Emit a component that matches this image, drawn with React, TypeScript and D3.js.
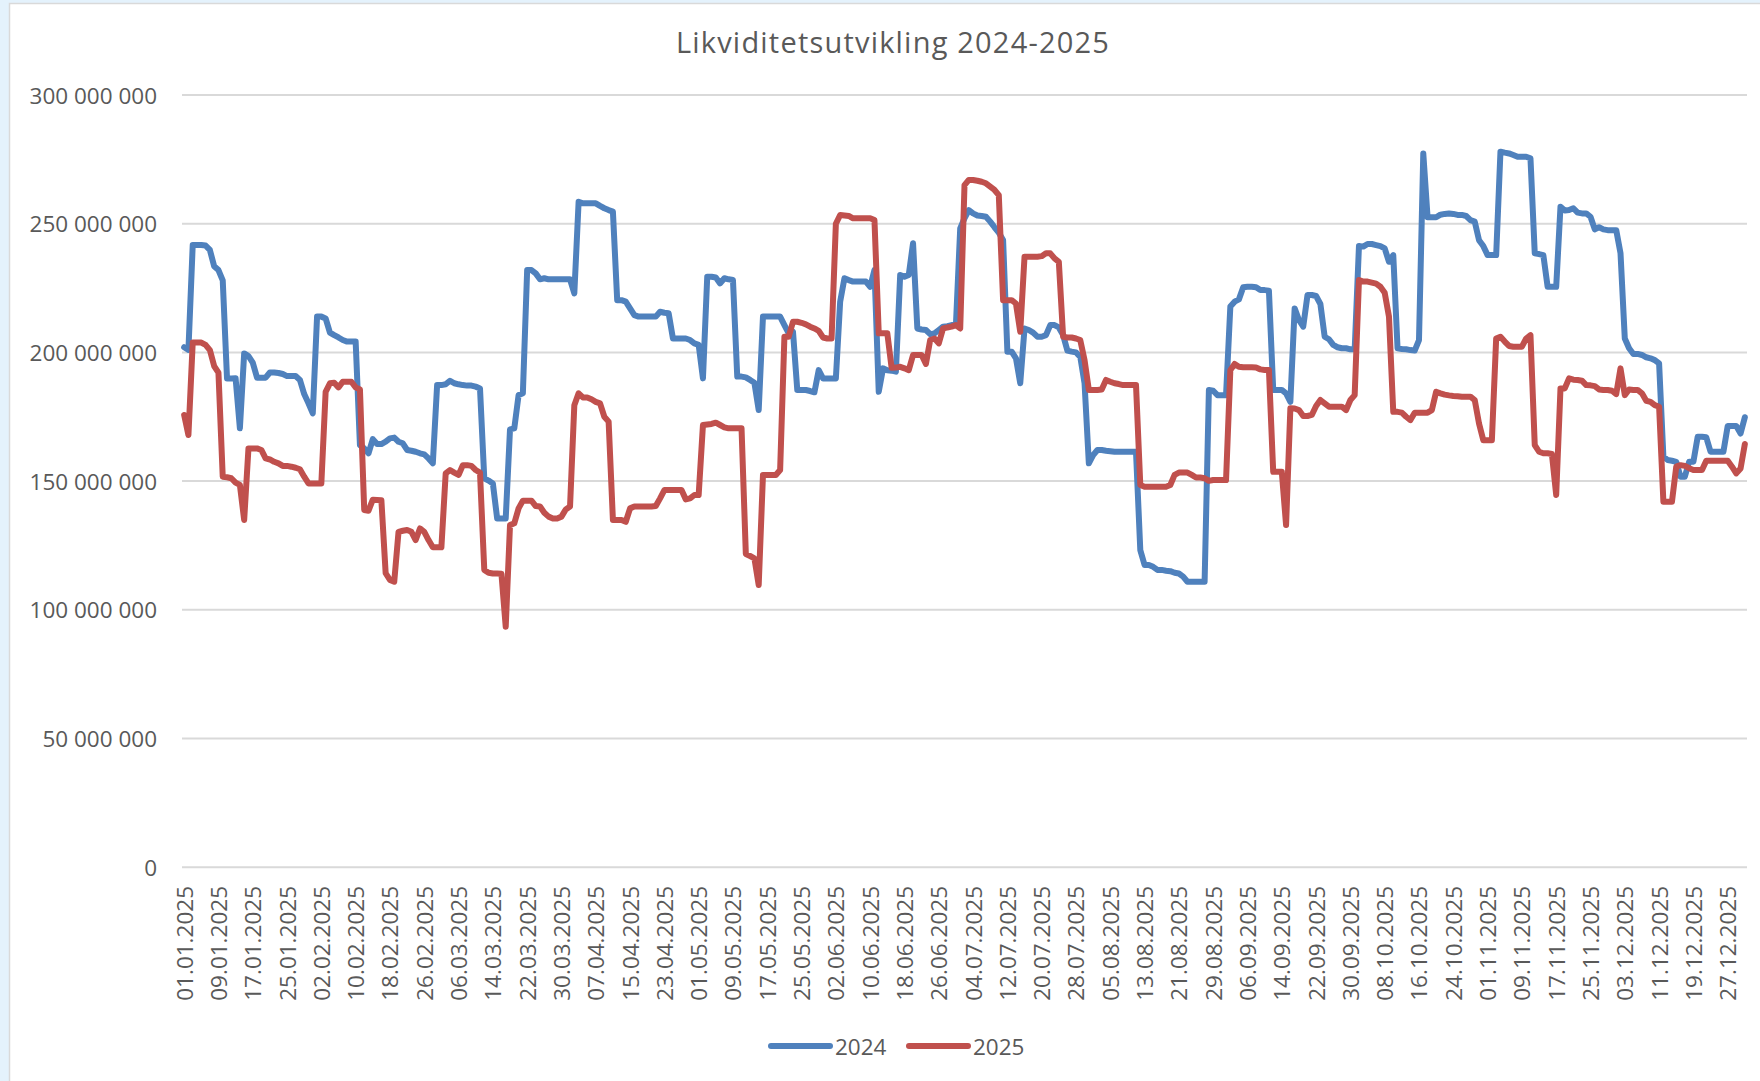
import React from 'react';
import * as d3 from 'd3';

// Likviditet per dag, millioner kroner (lest av fra grafen)
const series2024 = [
  202, 201, 241.7, 241.7, 241.7, 241.5, 239.8, 233.5, 232, 228,
  189.9, 189.9, 190, 170.5, 199.6, 198.6, 196, 190.2, 190.2, 190.2,
  192.2, 192.2, 192, 191.6, 190.8, 190.8, 190.8, 189.3, 183.8, 180.2,
  176.3, 213.9, 213.9, 213.2, 207.7, 206.7, 205.8, 204.8, 204.2, 204.2,
  204.2, 164, 162.7, 160.8, 166.3, 164.4, 164.4, 165.3, 166.6, 166.9,
  165.3, 164.7, 162.1, 161.8, 161.4, 160.8, 160.4, 158.8, 156.9, 187.3,
  187.3, 187.6, 189, 188, 187.6, 187.3, 187.1, 187.1, 186.7, 186,
  151.1, 150.2, 149.1, 135.5, 135.5, 135.5, 170.1, 170.5, 183.4, 184.1,
  232, 232, 230.7, 228.4, 228.8, 228.4, 228.4, 228.4, 228.4, 228.4,
  228.4, 222.9, 258.5, 257.9, 257.9, 257.9, 257.9, 256.9, 256, 255.3,
  254.7, 220.3, 220.3, 219.7, 217.1, 214.5, 213.9, 213.9, 213.9, 213.9,
  213.9, 215.8, 215.4, 215.2, 205.4, 205.4, 205.4, 205.4, 204.8, 203.5,
  202.9, 189.9, 229.4, 229.4, 229.1, 226.8, 228.8, 228.4, 228.1, 190.6,
  190.6, 190.3, 189.3, 188.2, 177.6, 213.9, 213.9, 213.9, 213.9, 213.9,
  210.6, 207.4, 208, 185.4, 185.4, 185.4, 185, 184.5, 193.1, 189.9,
  189.9, 189.9, 189.9, 219.7, 228.8, 228.1, 227.5, 227.5, 227.5, 227.5,
  225.5, 232, 184.7, 193.8, 193.1, 192.9, 192.5, 230.1, 229.4, 230.1,
  242.4, 209.3, 208.9, 208.7, 207.1, 207.4, 208.7, 210, 210.2, 210.6,
  210.6, 248.2, 252.1, 255.3, 254, 253.2, 253, 252.7, 250.8, 248.6,
  246.5, 243.7, 200.3, 200.3, 197.7, 188, 209.3, 208.7, 207.7, 206.1,
  206.1, 206.7, 210.6, 210.6, 209.7, 206.7, 200.7, 200.3, 200, 198.3,
  188, 156.9, 160.1, 162.1, 162.1, 161.8, 161.6, 161.4, 161.4, 161.4,
  161.4, 161.4, 161.4, 123.2, 117.4, 117.4, 116.7, 115.5, 115.5, 115.2,
  115, 114.4, 114.1, 112.9, 110.9, 110.9, 110.9, 110.9, 110.9, 185.4,
  185.1, 183.4, 183.4, 183.4, 217.8, 219.7, 220.6, 225.3, 225.5, 225.5,
  225.3, 224.2, 224.2, 224, 185.4, 185.4, 185.4, 184.1, 180.8, 217.1,
  212.6, 210, 222.3, 222.3, 221.9, 218.8, 206.1, 205.1, 202.9, 202,
  201.6, 201.6, 201.2, 201.2, 241.3, 241.1, 242.1, 242.1, 241.7, 241.3,
  240.4, 235.2, 237.8, 201.6, 201.3, 201.2, 200.9, 200.7, 204.8, 277.3,
  252.5, 252.5, 252.5, 253.5, 253.8, 254, 253.8, 253.4, 253.4, 253,
  251.4, 250.8, 243.6, 241.3, 237.8, 237.8, 237.8, 278, 277.6, 277.3,
  276.7, 276, 276, 276, 275.4, 238.5, 238.2, 237.8, 225.5, 225.5,
  225.5, 256.6, 255.1, 255.3, 256, 254.3, 254, 254, 252.7, 247.8,
  248.6, 247.8, 247.5, 247.5, 247.5, 238.5, 205.4, 201.6, 199.4, 199.4,
  199, 198.1, 197.7, 197, 195.7, 159.5, 158.2, 157.9, 157.5, 151.7,
  151.7, 157.5, 157.5, 167.2, 167.2, 167, 161.4, 161.4, 161.4, 161.4,
  171.4, 171.4, 171.4, 168.5, 174.8,
];

const series2025 = [
  175.7, 167.9, 203.8, 203.8, 203.8, 202.9, 200.9, 194.7, 192.1, 151.7,
  151.5, 151.1, 149.4, 148.5, 134.9, 162.7, 162.7, 162.7, 162.1, 158.8,
  158.4, 157.5, 156.9, 155.9, 155.9, 155.6, 155.2, 154.6, 151.7, 149.1,
  149.1, 149.1, 149.1, 184.7, 188, 188.2, 186.4, 188.6, 188.6, 188.6,
  186.4, 185.6, 138.8, 138.5, 142.8, 142.7, 142.6, 114.2, 111.6, 110.9,
  130.3, 130.7, 131, 130.3, 127.1, 131.6, 130.3, 127.1, 124.3, 124.3,
  124.3, 153, 154.3, 153.3, 152.4, 156.2, 156.2, 155.9, 154.3, 153.3,
  115.5, 114.4, 114.1, 114.1, 114, 93.4, 132.9, 133.6, 139.4, 142.4,
  142.4, 142.4, 140.3, 140.1, 137.7, 136.2, 135.5, 135.5, 136.2, 139,
  140.1, 179.5, 184.1, 182.5, 182.5, 181.8, 180.8, 180.2, 175, 173.1,
  134.9, 134.9, 134.9, 134.2, 139.4, 140.1, 140.1, 140.1, 140.1, 140.1,
  140.3, 143.3, 146.5, 146.5, 146.5, 146.5, 146.5, 142.9, 143.3, 144.6,
  144.6, 171.8, 172, 172.2, 172.7, 171.8, 170.9, 170.5, 170.5, 170.5,
  170.5, 121.7, 120.9, 120, 109.6, 152.4, 152.4, 152.4, 152.4, 154.3,
  206.1, 206.1, 211.9, 211.9, 211.5, 210.9, 210, 209.3, 208.4, 205.8,
  205.4, 205.4, 250, 253.4, 253.2, 253, 252.1, 252.1, 252.1, 252.1,
  252.1, 251.4, 207.4, 207.4, 207.4, 194, 194.1, 194.4, 193.8, 193.1,
  199, 199, 199, 195.5, 204.8, 205.4, 203.5, 209.3, 209.7, 210,
  210.6, 209.3, 265, 267, 267, 266.7, 266.3, 265.7, 264.4, 263.1,
  261.1, 220.3, 220.3, 220.3, 219, 208, 237.2, 237.2, 237.2, 237.2,
  237.4, 238.5, 238.5, 236.5, 235.2, 206.1, 205.8, 205.8, 205.4, 204.8,
  197, 185.4, 185.4, 185.4, 185.6, 189.3, 188.6, 188, 187.7, 187.3,
  187.3, 187.3, 187.3, 148.5, 147.8, 147.8, 147.8, 147.8, 147.8, 147.8,
  148.5, 152.4, 153.3, 153.3, 153.3, 152.4, 151.4, 151.4, 151.1, 150.1,
  150.4, 150.4, 150.4, 150.4, 193.1, 195.5, 194.4, 194.2, 194.2, 194.2,
  194.1, 193.4, 193.2, 193.2, 153.6, 153.6, 153.6, 132.9, 178.3, 178.2,
  177.6, 175.3, 175.3, 175.7, 179.2, 181.5, 180.2, 178.9, 178.9, 178.9,
  178.9, 177.6, 181.5, 183.4, 228.1, 227.5, 227.5, 227.1, 226.7, 225.5,
  223.2, 213.9, 176.9, 176.9, 176.6, 175, 173.7, 176.6, 176.6, 176.6,
  176.6, 177.6, 184.7, 184.1, 183.6, 183.3, 183.1, 183, 182.8, 182.8,
  182.8, 181.5, 172.4, 165.9, 165.9, 165.9, 205.4, 206.1, 204.2, 202.5,
  202.2, 202.2, 202.2, 205.4, 206.7, 164, 161.4, 160.8, 160.8, 160.5,
  144.6, 186, 186, 189.9, 189.4, 189.3, 189, 187.3, 187.2, 186.9,
  185.6, 185.4, 185.4, 185.1, 183.8, 193.8, 183.4, 185.6, 185.4, 185.4,
  184.1, 181.2, 180.8, 179.5, 178.9, 142, 142, 142, 155.6, 156.2,
  155.9, 155, 154.3, 154.3, 154.3, 157.9, 157.9, 157.9, 157.9, 157.9,
  157.9, 155.6, 153, 154.9, 164.4,
];

const seriesNames = ['2024', '2025'];
const seriesColors = ['#4f81bd', '#c0504d'];
const yTicks = [0, 50, 100, 150, 200, 250, 300];

// kategorier: hver dag i 2025
const dates = d3.timeDay.range(new Date(2025, 0, 1), new Date(2026, 0, 1));
const fmtDate = d3.timeFormat('%d.%m.%Y');
const fmtNok = (v: number) => (v === 0 ? '0' : d3.format(',')(v * 1e6).replace(/,/g, ' '));

const W = 1760;
const H = 1081;
const plot = { left: 182, right: 1747, top: 95, bottom: 867.2 };
const FONT = '"Open Sans", sans-serif';
const TXT = '#595959';

export default function App() {
  const x = d3.scaleBand<number>()
    .domain(dates.map((_, i) => i))
    .range([plot.left, plot.right]);
  const y = d3.scaleLinear().domain([0, 300]).range([plot.bottom, plot.top]);
  const cx = (i: number) => (x(i) as number) + x.bandwidth() / 2;

  const line = d3.line<number>()
    .x((_, i) => cx(i))
    .y((d) => y(d));

  const allSeries = [series2024, series2025];

  return (
    <div style={{ position: 'absolute', left: 0, top: 0 }}>
      <svg width={W} height={H} style={{ display: 'block', fontFamily: FONT }}>
        <rect x={0} y={0} width={W} height={H} fill="#e4f2fc" />
        <rect x={9.5} y={3.5} width={W} height={H} fill="#ffffff" stroke="#d9d9d9" strokeWidth={1.5} />

        <text x={893} y={41} textAnchor="middle" dominantBaseline="central" fontSize={29} letterSpacing={1.2} fill={TXT}>
          Likviditetsutvikling 2024-2025
        </text>

        {yTicks.map((t) => (
          <g key={t}>
            <line x1={plot.left} x2={plot.right} y1={y(t)} y2={y(t)} stroke="#d9d9d9" strokeWidth={2} />
            <text x={157} y={y(t)} textAnchor="end" dominantBaseline="central" fontSize={22.5} fill={TXT}>
              {fmtNok(t)}
            </text>
          </g>
        ))}

        {dates.map((d, i) => (i % 8 === 0 ? (
          <text
            key={i}
            transform={`translate(${cx(i)},886) rotate(-90)`}
            textAnchor="end"
            dominantBaseline="central"
            fontSize={22.5}
            fill={TXT}
          >
            {fmtDate(d)}
          </text>
        ) : null))}

        {allSeries.map((s, k) => (
          <path
            key={k}
            d={line(s) || ''}
            fill="none"
            stroke={seriesColors[k]}
            strokeWidth={6}
            strokeLinejoin="round"
            strokeLinecap="round"
          />
        ))}

        {seriesNames.map((name, k) => {
          const lx = 771 + k * 138;
          return (
            <g key={name}>
              <line x1={lx} x2={lx + 59} y1={1046} y2={1046} stroke={seriesColors[k]} strokeWidth={6} strokeLinecap="round" />
              <text x={lx + 64} y={1046} dominantBaseline="central" fontSize={22.5} fill={TXT}>{name}</text>
            </g>
          );
        })}
      </svg>
    </div>
  );
}
